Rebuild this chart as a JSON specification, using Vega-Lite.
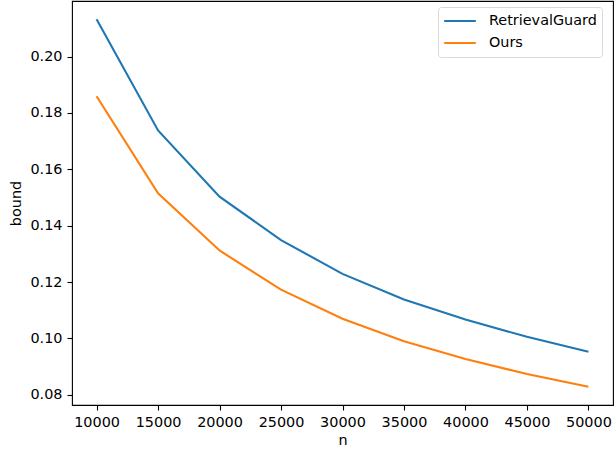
{
  "$schema": "https://vega.github.io/schema/vega-lite/v6.json",
  "width": 541,
  "height": 404,
  "autosize": {"type": "none"},
  "padding": {"left": 72, "top": 1, "right": 2, "bottom": 48},
  "view": {"stroke": "black", "strokeWidth": 1.1},
  "config": {
    "font": "DejaVu Sans",
    "view": {"stroke": "black", "strokeWidth": 1.1},
    "axis": {
      "domain": false,
      "grid": false,
      "tickColor": "black",
      "tickSize": 5,
      "tickWidth": 1.1,
      "labelColor": "black",
      "labelFontSize": 14.4,
      "labelPadding": 5,
      "titleColor": "black",
      "titleFontSize": 14.4,
      "titleFontWeight": "normal"
    }
  },
  "data": {
    "values": [
      {"n": 10000, "bound": 0.2132, "method": "RetrievalGuard"},
      {"n": 15000, "bound": 0.1738, "method": "RetrievalGuard"},
      {"n": 20000, "bound": 0.1503, "method": "RetrievalGuard"},
      {"n": 25000, "bound": 0.1349, "method": "RetrievalGuard"},
      {"n": 30000, "bound": 0.1229, "method": "RetrievalGuard"},
      {"n": 35000, "bound": 0.1138, "method": "RetrievalGuard"},
      {"n": 40000, "bound": 0.1067, "method": "RetrievalGuard"},
      {"n": 45000, "bound": 0.1006, "method": "RetrievalGuard"},
      {"n": 50000, "bound": 0.0953, "method": "RetrievalGuard"},
      {"n": 10000, "bound": 0.1859, "method": "Ours"},
      {"n": 15000, "bound": 0.1515, "method": "Ours"},
      {"n": 20000, "bound": 0.1312, "method": "Ours"},
      {"n": 25000, "bound": 0.1173, "method": "Ours"},
      {"n": 30000, "bound": 0.1070, "method": "Ours"},
      {"n": 35000, "bound": 0.0990, "method": "Ours"},
      {"n": 40000, "bound": 0.0927, "method": "Ours"},
      {"n": 45000, "bound": 0.0874, "method": "Ours"},
      {"n": 50000, "bound": 0.0829, "method": "Ours"}
    ]
  },
  "mark": {"type": "line", "strokeWidth": 2.1},
  "encoding": {
    "x": {
      "field": "n",
      "type": "quantitative",
      "scale": {"domain": [8000, 52000], "nice": false, "zero": false},
      "axis": {"values": [10000, 15000, 20000, 25000, 30000, 35000, 40000, 45000, 50000], "format": "d", "title": "n", "titlePadding": 5}
    },
    "y": {
      "field": "bound",
      "type": "quantitative",
      "scale": {"domain": [0.0764, 0.2197], "nice": false, "zero": false},
      "axis": {"values": [0.08, 0.10, 0.12, 0.14, 0.16, 0.18, 0.20], "format": ".2f", "title": "bound", "titlePadding": 6}
    },
    "color": {
      "field": "method",
      "type": "nominal",
      "scale": {"domain": ["RetrievalGuard", "Ours"], "range": ["#1f77b4", "#ff7f0e"]},
      "legend": {
        "title": null,
        "orient": "none",
        "legendX": 366,
        "legendY": 6,
        "symbolType": "stroke",
        "symbolSize": 1000,
        "symbolStrokeWidth": 2.1,
        "labelFontSize": 14.4,
        "labelColor": "black",
        "labelOffset": 12,
        "clipHeight": 18,
        "rowPadding": 4,
        "padding": 5,
        "fillColor": "white",
        "strokeColor": "#d9d9d9",
        "cornerRadius": 3
      }
    }
  }
}
